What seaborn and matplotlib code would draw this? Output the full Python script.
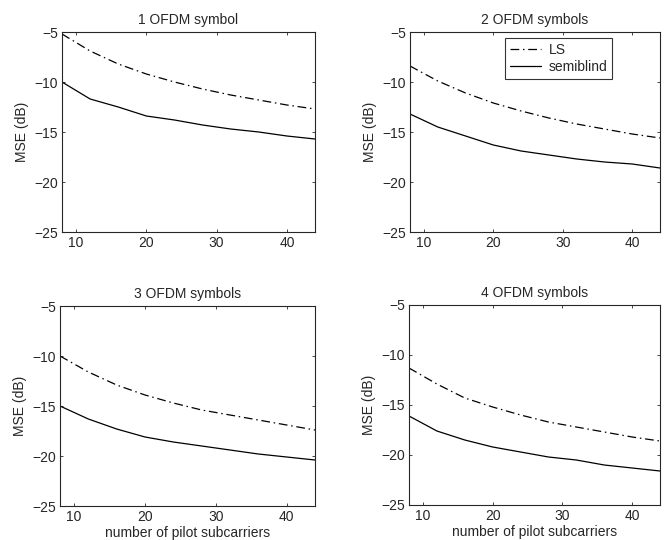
import numpy as np
import pandas as pd
import matplotlib
matplotlib.use('Agg')
import matplotlib.pyplot as plt
import seaborn as sns

sns.set_style('ticks')
plt.rcParams['font.family'] = ['Liberation Sans', 'DejaVu Sans']
plt.rcParams['xtick.direction'] = 'in'
plt.rcParams['ytick.direction'] = 'in'

pilots = [8, 12, 16, 20, 24, 28, 32, 36, 40, 44]
titles = ['1 OFDM symbol', '2 OFDM symbols', '3 OFDM symbols', '4 OFDM symbols']

ls_1 = [-5.2, -6.9, -8.2, -9.2, -10.0, -10.7, -11.3, -11.8, -12.3, -12.7]
sb_1 = [-10.0, -11.7, -12.5, -13.4, -13.8, -14.3, -14.7, -15.0, -15.4, -15.7]
ls_2 = [-8.4, -9.9, -11.1, -12.1, -12.9, -13.6, -14.2, -14.7, -15.2, -15.6]
sb_2 = [-13.2, -14.5, -15.4, -16.3, -16.9, -17.3, -17.7, -18.0, -18.2, -18.6]
ls_3 = [-10.0, -11.6, -12.9, -13.9, -14.7, -15.4, -15.9, -16.4, -16.9, -17.4]
sb_3 = [-15.0, -16.3, -17.3, -18.1, -18.6, -19.0, -19.4, -19.8, -20.1, -20.4]
ls_4 = [-11.3, -12.9, -14.3, -15.2, -16.0, -16.7, -17.2, -17.7, -18.2, -18.6]
sb_4 = [-16.1, -17.6, -18.5, -19.2, -19.7, -20.2, -20.5, -21.0, -21.3, -21.6]

ls_all = [ls_1, ls_2, ls_3, ls_4]
sb_all = [sb_1, sb_2, sb_3, sb_4]

fig = plt.figure(figsize=(6.67, 5.4), dpi=100)
boxes = [(62, 32, 315, 232), (410, 32, 660, 232),
         (60, 306, 315, 506), (409, 305, 660, 505)]
W, H = 667, 540

for i, (x0, y0, x1, y1) in enumerate(boxes):
    ax = fig.add_axes([x0 / W, 1 - y1 / H, (x1 - x0) / W, (y1 - y0) / H])
    df = pd.DataFrame({
        'pilots': pilots * 2,
        'mse': ls_all[i] + sb_all[i],
        'method': ['LS'] * len(pilots) + ['semiblind'] * len(pilots),
    })
    sns.lineplot(data=df, x='pilots', y='mse', style='method',
                 dashes={'LS': (7, 3, 1.2, 3), 'semiblind': ''},
                 color='black', linewidth=0.9, ax=ax, legend=(i == 1))
    ax.set_xlim(8, 44)
    ax.set_ylim(-25, -5)
    ax.set_xticks([10, 20, 30, 40])
    ax.set_yticks([-25, -20, -15, -10, -5])
    ax.set_yticklabels(['\u221225', '\u221220', '\u221215', '\u221210', '\u22125'])
    ax.tick_params(top=True, right=True, length=2.5, width=0.6, labelsize=10, pad=3)
    for s in ax.spines.values():
        s.set_linewidth(0.8)
    ax.set_title(titles[i], fontsize=10, pad=6)
    ax.set_ylabel('MSE (dB)', fontsize=10)
    ax.set_xlabel('number of pilot subcarriers' if i >= 2 else '', fontsize=10, labelpad=1)
    if i == 1:
        leg = ax.legend(loc='upper right', bbox_to_anchor=(0.81, 0.97), fontsize=10,
                        frameon=True, fancybox=False, edgecolor='black',
                        handlelength=2.2, borderpad=0.35, labelspacing=0.2,
                        handletextpad=0.6, borderaxespad=0.0)
        leg.get_frame().set_linewidth(0.8)
        leg.set_title(None)

fig.savefig('out.png', dpi=100, facecolor='white')
